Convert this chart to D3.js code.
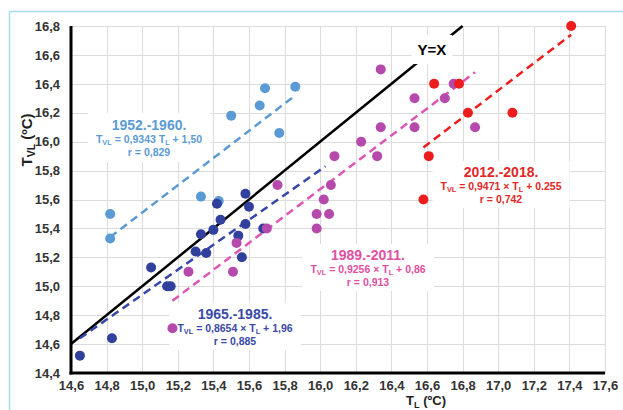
<!DOCTYPE html>
<html>
<head>
<meta charset="utf-8">
<script src="https://cdn.jsdelivr.net/npm/d3@7"></script>
<style>
  body { margin: 0; background: #fff; }
  svg { display: block; font-family: "Liberation Sans", Arial, sans-serif; }
</style>
</head>
<body>
<div class="vis"></div>
<script>
'use strict';

// ---- data ----
var xTicks = [14.6, 14.8, 15.0, 15.2, 15.4, 15.6, 15.8, 16.0, 16.2, 16.4, 16.6, 16.8, 17.0, 17.2, 17.4, 17.6];
var yTicks = [14.4, 14.6, 14.8, 15.0, 15.2, 15.4, 15.6, 15.8, 16.0, 16.2, 16.4, 16.6, 16.8];

// 1952.-1960.
var p1952X = [14.82, 14.82, 15.33, 15.43, 15.50, 15.66, 15.69, 15.86, 15.77];
var p1952Y = [15.50, 15.33, 15.62, 15.59, 16.18, 16.25, 16.37, 16.38, 16.06];
var fit1952 = [[14.82, 15.34], [15.86, 16.32]];

// 1965.-1985.
var p1965X = [14.65, 14.83, 15.05, 15.14, 15.16, 15.30, 15.36, 15.33, 15.40, 15.44, 15.42, 15.58, 15.60, 15.58, 15.54, 15.56, 15.68];
var p1965Y = [14.52, 14.64, 15.13, 15.00, 15.00, 15.24, 15.23, 15.36, 15.39, 15.46, 15.57, 15.64, 15.55, 15.43, 15.35, 15.20, 15.40];
var fit1965 = [[14.65, 14.64], [16.03, 15.83]];

// 1989.-2011.
var p1989X = [15.17, 15.26, 15.51, 15.53, 15.70, 15.76, 15.98, 15.98, 16.05, 16.02, 16.06, 16.08, 16.23, 16.32, 16.34, 16.34, 16.53, 16.53, 16.70, 16.75, 16.87];
var p1989Y = [14.71, 15.10, 15.10, 15.30, 15.40, 15.70, 15.40, 15.50, 15.50, 15.60, 15.70, 15.90, 16.00, 15.90, 16.10, 16.50, 16.30, 16.10, 16.30, 16.40, 16.10];
var fit1989 = [[15.17, 14.90], [16.87, 16.48]];

// 2012.-2018.
var p2012X = [17.41, 16.64, 16.78, 16.83, 17.08, 16.61, 16.58];
var p2012Y = [16.80, 16.40, 16.40, 16.20, 16.20, 15.90, 15.60];
var fit2012 = [[16.58, 15.96], [17.41, 16.74]];

var identityLine = [[14.6, 14.6], [16.8, 16.8]];

(function () {
  // ---- layout ----
  var width = 623;
  var height = 410;
  var plotLeft = 71, plotRight = 605, plotTop = 26, plotBottom = 373;

  var x = d3.scaleLinear().domain([14.6, 17.6]).range([plotLeft, plotRight]);
  var y = d3.scaleLinear().domain([14.4, 16.8]).range([plotBottom, plotTop]);
  var comma = function(d) { return d3.format('.1f')(d).replace('.', ','); };

  var svg = d3.select('.vis').append('svg')
    .attr('width', width)
    .attr('height', height);

  // outer frame
  svg.append('rect')
    .attr('x', 9.5).attr('y', 11.5)
    .attr('width', 700).attr('height', 500)
    .attr('fill', 'none')
    .attr('stroke', '#a9dbe9')
    .attr('stroke-width', 1.5);

  // grid
  var grid = svg.append('g').attr('stroke', '#dcdcdc').attr('stroke-width', 1);
  grid.selectAll('.vg').data(xTicks).enter().append('line')
    .attr('x1', function(d) { return Math.round(x(d)) + 0.5; })
    .attr('x2', function(d) { return Math.round(x(d)) + 0.5; })
    .attr('y1', plotTop).attr('y2', plotBottom);
  grid.selectAll('.hg').data(yTicks).enter().append('line')
    .attr('y1', function(d) { return Math.round(y(d)) + 0.5; })
    .attr('y2', function(d) { return Math.round(y(d)) + 0.5; })
    .attr('x1', plotLeft).attr('x2', plotRight);

  // axes (labels only, lines drawn by hand)
  var xAxis = svg.append('g')
    .attr('transform', 'translate(0,' + plotBottom + ')')
    .call(d3.axisBottom(x).tickValues(xTicks).tickFormat(comma).tickSize(0).tickPadding(8));
  var yAxis = svg.append('g')
    .attr('transform', 'translate(' + plotLeft + ',0)')
    .call(d3.axisLeft(y).tickValues(yTicks).tickFormat(comma).tickSize(0).tickPadding(11));
  [xAxis, yAxis].forEach(function(a) {
    a.select('.domain').remove();
    a.selectAll('text')
      .attr('font-family', '"Liberation Sans", Arial, sans-serif')
      .attr('font-size', 13)
      .attr('font-weight', 'bold')
      .attr('fill', '#333');
  });

  svg.append('line')
    .attr('x1', plotLeft).attr('x2', plotLeft).attr('y1', plotTop).attr('y2', plotBottom + 1.5)
    .attr('stroke', '#000').attr('stroke-width', 3);
  svg.append('line')
    .attr('x1', plotLeft - 1.5).attr('x2', plotRight).attr('y1', plotBottom).attr('y2', plotBottom)
    .attr('stroke', '#000').attr('stroke-width', 3);

  // text with subscripts
  function subText(g, parts, size) {
    var t = g.append('text');
    parts.forEach(function(p) {
      var s = t.append('tspan').text(p.t);
      if (p.sub) s.attr('font-size', size * 0.7).attr('dy', size * 0.2);
      else if (p.back) s.attr('dy', -size * 0.2);
    });
    return t;
  }

  // axis titles
  var yTitle = svg.append('g')
    .attr('transform', 'translate(32,140) rotate(-90)');
  subText(yTitle, [{t: 'T'}, {t: 'VL', sub: true}, {t: ' (ºC)', back: true}], 15)
    .attr('text-anchor', 'middle')
    .attr('font-size', 15).attr('font-weight', 'bold').attr('fill', '#222');

  var xTitle = svg.append('g').attr('transform', 'translate(426,405)');
  subText(xTitle, [{t: 'T'}, {t: 'L', sub: true}, {t: ' (ºC)', back: true}], 13)
    .attr('text-anchor', 'middle')
    .attr('font-size', 13).attr('font-weight', 'bold').attr('fill', '#222');

  // Y=X line
  var line = d3.line().x(function(d) { return x(d[0]); }).y(function(d) { return y(d[1]); });
  svg.append('path')
    .attr('d', line(identityLine))
    .attr('fill', 'none').attr('stroke', '#000').attr('stroke-width', 2.5);

  // labels with white boxes
  function label(cx, cy, lines, color, boxPad) {
    var g = svg.append('g');
    var box = g.append('rect').attr('fill', '#fff');
    lines.forEach(function(l) {
      subText(g, l.parts, l.size)
        .attr('x', cx).attr('y', cy + l.dy)
        .attr('text-anchor', 'middle')
        .attr('font-size', l.size)
        .attr('font-weight', 'bold')
        .attr('fill', color);
    });
    var bb = g.node().getBBox();
    box.attr('x', bb.x - boxPad[0]).attr('y', bb.y - boxPad[1])
      .attr('width', bb.width + 2 * boxPad[0]).attr('height', bb.height + 2 * boxPad[1]);
  }

  function eqLines(title, slope, op, intercept, r) {
    return [
      {size: 14, dy: 0, parts: [{t: title}]},
      {size: 10.5, dy: 13, parts: [{t: 'T'}, {t: 'VL', sub: true}, {t: ' = ' + slope + ' ' + (op ? op + ' ' : '') + 'T', back: true}, {t: 'L', sub: true}, {t: ' + ' + intercept, back: true}]},
      {size: 10.5, dy: 26, parts: [{t: 'r = ' + r}]}
    ];
  }

  label(432, 55, [{size: 15, dy: 0, parts: [{t: 'Y=X'}]}], '#000', [6, 6]);
  label(149, 130, eqLines('1952.-1960.', '0,9343', '', '1,50', '0,829'), '#5b9bd5', [8, 4]);
  label(235, 319, eqLines('1965.-1985.', '0,8654', '×', '1,96', '0,885'), '#3a4aa6', [8, 3]);
  label(368, 260, eqLines('1989.-2011.', '0,9256', '×', '0,86', '0,913'), '#e0509f', [8, 3]);
  label(501, 177, eqLines('2012.-2018.', '0,9471', '×', '0.255', '0,742'), '#e02828', [8, 3]);

  // regression lines and points
  var series = [
    {xs: p1952X, ys: p1952Y, fit: fit1952, dot: '#5b9bd5', line: '#5b9bd5'},
    {xs: p1965X, ys: p1965Y, fit: fit1965, dot: '#30409c', line: '#3446a8'},
    {xs: p1989X, ys: p1989Y, fit: fit1989, dot: '#b64aac', line: '#de56b4'},
    {xs: p2012X, ys: p2012Y, fit: fit2012, dot: '#ee1d1d', line: '#ee1d1d'}
  ];

  series.forEach(function(s) {
    svg.append('path')
      .attr('d', line(s.fit))
      .attr('fill', 'none').attr('stroke', s.line)
      .attr('stroke-width', 2.5).attr('stroke-dasharray', '8,5');
  });

  series.forEach(function(s) {
    svg.append('g').selectAll('circle')
      .data(s.xs.map(function(v, i) { return [v, s.ys[i]]; }))
      .enter().append('circle')
        .attr('cx', function(d) { return x(d[0]); })
        .attr('cy', function(d) { return y(d[1]); })
        .attr('r', 5)
        .attr('fill', s.dot);
  });
})();
</script>
</body>
</html>
